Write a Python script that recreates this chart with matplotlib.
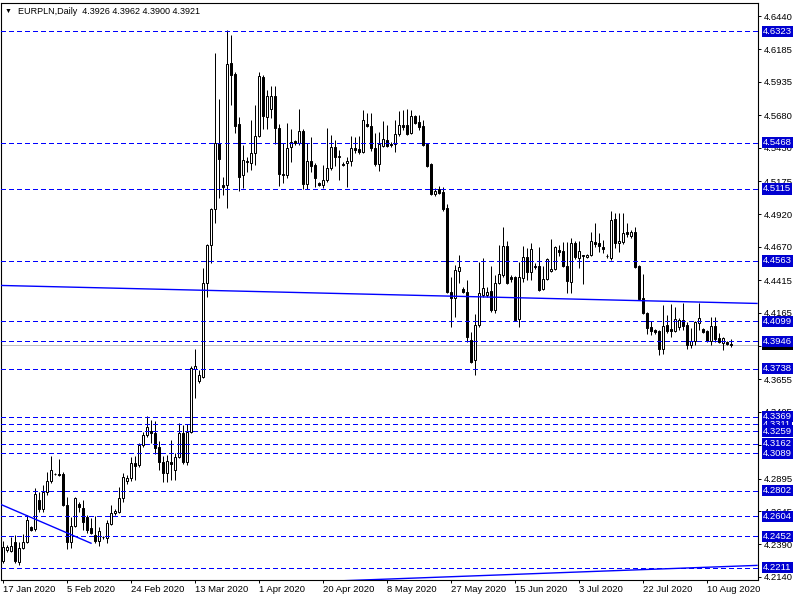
import numpy as np
import matplotlib
matplotlib.use('Agg')
import matplotlib.pyplot as plt
import matplotlib.transforms as mtransforms

plt.rcParams['font.family'] = ['Liberation Sans', 'DejaVu Sans']

# --- data ---
symbol = 'EURPLN,Daily'
last_ohlc = [4.3926, 4.3962, 4.3900, 4.3921]
bid = 4.3921

date_labels = ['17 Jan 2020', '5 Feb 2020', '24 Feb 2020', '13 Mar 2020', '1 Apr 2020',
               '20 Apr 2020', '8 May 2020', '27 May 2020', '15 Jun 2020', '3 Jul 2020',
               '22 Jul 2020', '10 Aug 2020']
bars_per_label = 16

opens = [
    4.2263, 4.2347, 4.2340, 4.2409, 4.2255, 4.2363, 4.2409, 4.2524, 4.2509, 4.2731,
    4.2662, 4.2792, 4.2876, 4.2930, 4.2930, 4.2930, 4.2692, 4.2409, 4.2531, 4.2700,
    4.2669, 4.2600, 4.2516, 4.2462, 4.2417, 4.2447, 4.2440, 4.2547, 4.2631, 4.2639,
    4.2746, 4.2876, 4.2899, 4.3014, 4.2999, 4.3152, 4.3229, 4.3259, 4.3244, 4.3137,
    4.3022, 4.2938, 4.3022, 4.2961, 4.3060, 4.3244, 4.3022, 4.3252, 4.3735, 4.3643,
    4.3673, 4.4394, 4.4685, 4.4961, 4.5467, 4.5145, 4.5145, 4.6080, 4.5996, 4.5613,
    4.5222, 4.5321, 4.5314, 4.5390, 4.5521, 4.5973, 4.5666, 4.5728, 4.5827, 4.5582,
    4.5229, 4.5222, 4.5436, 4.5482, 4.5467, 4.5559, 4.5153, 4.5329, 4.5298, 4.5160,
    4.5145, 4.5183, 4.5275, 4.5436, 4.5360, 4.5306, 4.5314, 4.5329, 4.5429, 4.5421,
    4.5398, 4.5613, 4.5597, 4.5429, 4.5306, 4.5444, 4.5490, 4.5459, 4.5459, 4.5536,
    4.5605, 4.5605, 4.5544, 4.5674, 4.5628, 4.5597, 4.5459, 4.5306, 4.5076, 4.5114,
    4.5091, 4.4969, 4.4325, 4.4279, 4.4486, 4.4348, 4.4325, 4.3957, 4.3804, 4.4072,
    4.4302, 4.4302, 4.4333, 4.4187, 4.4394, 4.4455, 4.4677, 4.4440, 4.4440, 4.4118,
    4.4432, 4.4593, 4.4478, 4.4524, 4.4524, 4.4348, 4.4425, 4.4486, 4.4501, 4.4647,
    4.4639, 4.4524, 4.4402, 4.4700, 4.4585, 4.4601, 4.4593, 4.4608, 4.4708, 4.4700,
    4.4670, 4.4601, 4.4585, 4.4884, 4.4700, 4.4708, 4.4785, 4.4754, 4.4785, 4.4524,
    4.4279, 4.4164, 4.4057, 4.4034, 4.4026, 4.3888, 4.4072, 4.4041, 4.4026, 4.4057,
    4.4110, 4.4072, 4.3919, 4.3949, 4.4087, 4.4041, 4.4026, 4.3949, 4.4064, 4.3972,
    4.3934, 4.3942, 4.3926]

highs = [
    4.2416, 4.2386, 4.2447, 4.2462, 4.2409, 4.2470, 4.2616, 4.2531, 4.2823, 4.2792,
    4.2846, 4.2945, 4.3068, 4.2938, 4.3045, 4.2945, 4.2754, 4.2600, 4.2754, 4.2715,
    4.2731, 4.2616, 4.2593, 4.2608, 4.2524, 4.2455, 4.2577, 4.2692, 4.2662, 4.2830,
    4.2938, 4.2922, 4.3060, 4.3068, 4.3167, 4.3252, 4.3374, 4.3344, 4.3336, 4.3183,
    4.3068, 4.3076, 4.3190, 4.3091, 4.3321, 4.3305, 4.3313, 4.3758, 4.3888, 4.3727,
    4.4509, 4.4693, 4.4969, 4.6157, 4.5804, 4.5206, 4.6333, 4.6295, 4.6011, 4.5666,
    4.5452, 4.5360, 4.5643, 4.5758, 4.6011, 4.5988, 4.5873, 4.5904, 4.5904, 4.5613,
    4.5467, 4.5620, 4.5574, 4.5490, 4.5728, 4.5574, 4.5467, 4.5513, 4.5314, 4.5168,
    4.5298, 4.5582, 4.5528, 4.5490, 4.5413, 4.5321, 4.5360, 4.5521, 4.5513, 4.5521,
    4.5720, 4.5697, 4.5697, 4.5544, 4.5551, 4.5636, 4.5605, 4.5475, 4.5643, 4.5712,
    4.5720, 4.5728, 4.5720, 4.5682, 4.5682, 4.5643, 4.5467, 4.5314, 4.5122, 4.5137,
    4.5130, 4.4999, 4.4440, 4.4532, 4.4608, 4.4363, 4.4417, 4.4018, 4.4156, 4.4555,
    4.4585, 4.4363, 4.4524, 4.4455, 4.4685, 4.4823, 4.4716, 4.4455, 4.4447, 4.4555,
    4.4677, 4.4662, 4.4700, 4.4547, 4.4670, 4.4524, 4.4585, 4.4731, 4.4677, 4.4685,
    4.4708, 4.4708, 4.4739, 4.4716, 4.4716, 4.4608, 4.4616, 4.4785, 4.4854, 4.4777,
    4.4723, 4.4616, 4.4946, 4.4930, 4.4930, 4.4930, 4.4854, 4.4800, 4.4823, 4.4532,
    4.4463, 4.4172, 4.4103, 4.4041, 4.4034, 4.4225, 4.4149, 4.4233, 4.4210, 4.4126,
    4.4241, 4.4095, 4.4049, 4.4103, 4.4241, 4.4049, 4.4034, 4.4133, 4.4133, 4.4011,
    4.3980, 4.3949, 4.3962]

lows = [
    4.2248, 4.2332, 4.2332, 4.2248, 4.2232, 4.2355, 4.2401, 4.2493, 4.2493, 4.2639,
    4.2639, 4.2769, 4.2861, 4.2922, 4.2915, 4.2685, 4.2355, 4.2363, 4.2524, 4.2639,
    4.2501, 4.2478, 4.2470, 4.2401, 4.2378, 4.2432, 4.2401, 4.2539, 4.2616, 4.2631,
    4.2715, 4.2853, 4.2876, 4.2884, 4.2984, 4.3137, 4.3213, 4.3167, 4.3083, 4.2961,
    4.2869, 4.2869, 4.2884, 4.2884, 4.3053, 4.3007, 4.2999, 4.3244, 4.3512, 4.3627,
    4.3666, 4.4287, 4.4547, 4.4854, 4.5045, 4.5068, 4.4969, 4.5758, 4.5544, 4.5099,
    4.5122, 4.5245, 4.5260, 4.5298, 4.5513, 4.5574, 4.5574, 4.5659, 4.5459, 4.5137,
    4.5160, 4.5199, 4.5321, 4.5452, 4.5452, 4.5114, 4.5114, 4.5245, 4.5130, 4.5137,
    4.5122, 4.5168, 4.5260, 4.5291, 4.5183, 4.5291, 4.5130, 4.5291, 4.5390, 4.5383,
    4.5390, 4.5590, 4.5406, 4.5291, 4.5252, 4.5436, 4.5436, 4.5436, 4.5398, 4.5521,
    4.5567, 4.5528, 4.5536, 4.5613, 4.5567, 4.5444, 4.5283, 4.5068, 4.5061, 4.5076,
    4.4946, 4.4317, 4.4057, 4.4133, 4.4394, 4.4317, 4.3942, 4.3781, 4.3689, 4.4057,
    4.4287, 4.4287, 4.4172, 4.4164, 4.4386, 4.4440, 4.4386, 4.4402, 4.4103, 4.4057,
    4.4402, 4.4417, 4.4417, 4.4501, 4.4333, 4.4340, 4.4417, 4.4478, 4.4494, 4.4601,
    4.4516, 4.4317, 4.4317, 4.4578, 4.4509, 4.4386, 4.4585, 4.4601, 4.4670, 4.4631,
    4.4624, 4.4585, 4.4570, 4.4662, 4.4631, 4.4693, 4.4746, 4.4739, 4.4509, 4.4264,
    4.4156, 4.4003, 4.3995, 4.4003, 4.3842, 4.3850, 4.4011, 4.3980, 4.4018, 4.4034,
    4.4034, 4.3888, 4.3896, 4.3919, 4.4034, 4.4011, 4.3942, 4.3919, 4.3942, 4.3934,
    4.3880, 4.3919, 4.3900]

closes = [
    4.2371, 4.2371, 4.2378, 4.2263, 4.2363, 4.2409, 4.2577, 4.2501, 4.2777, 4.2662,
    4.2792, 4.2876, 4.2961, 4.2926, 4.2922, 4.2692, 4.2409, 4.2531, 4.2746, 4.2677,
    4.2562, 4.2501, 4.2478, 4.2417, 4.2493, 4.2443, 4.2554, 4.2631, 4.2646, 4.2746,
    4.2907, 4.2899, 4.3014, 4.2991, 4.3152, 4.3229, 4.3290, 4.3244, 4.3129, 4.3022,
    4.2938, 4.3030, 4.3007, 4.3060, 4.3244, 4.3022, 4.3252, 4.3742, 4.3758, 4.3689,
    4.4394, 4.4685, 4.4961, 4.5467, 4.5344, 4.5130, 4.6072, 4.5988, 4.5597, 4.5206,
    4.5337, 4.5329, 4.5390, 4.5521, 4.5980, 4.5674, 4.5827, 4.5827, 4.5582, 4.5229,
    4.5222, 4.5429, 4.5475, 4.5467, 4.5559, 4.5153, 4.5329, 4.5291, 4.5199, 4.5145,
    4.5183, 4.5275, 4.5436, 4.5360, 4.5367, 4.5302, 4.5329, 4.5429, 4.5413, 4.5398,
    4.5643, 4.5597, 4.5429, 4.5306, 4.5459, 4.5498, 4.5444, 4.5455, 4.5536, 4.5605,
    4.5590, 4.5536, 4.5674, 4.5620, 4.5590, 4.5452, 4.5291, 4.5076, 4.5099, 4.5084,
    4.4961, 4.4325, 4.4279, 4.4494, 4.4516, 4.4325, 4.3980, 4.3788, 4.4072, 4.4317,
    4.4356, 4.4325, 4.4187, 4.4394, 4.4463, 4.4677, 4.4394, 4.4425, 4.4110, 4.4440,
    4.4593, 4.4478, 4.4654, 4.4520, 4.4340, 4.4425, 4.4578, 4.4501, 4.4670, 4.4631,
    4.4524, 4.4409, 4.4700, 4.4593, 4.4639, 4.4605, 4.4608, 4.4716, 4.4693, 4.4677,
    4.4658, 4.4597, 4.4877, 4.4700, 4.4716, 4.4777, 4.4769, 4.4785, 4.4516, 4.4271,
    4.4164, 4.4049, 4.4026, 4.4018, 4.3888, 4.4064, 4.4026, 4.4026, 4.4118, 4.4110,
    4.4064, 4.3919, 4.3949, 4.4095, 4.4126, 4.4018, 4.3949, 4.4064, 4.3965, 4.3942,
    4.3972, 4.3926, 4.3921]

# horizontal levels drawn on the chart
levels = [4.6323, 4.5468, 4.5115, 4.4563, 4.4099, 4.3946, 4.3738, 4.3369, 4.3311,
          4.3259, 4.3162, 4.3089, 4.2802, 4.2604, 4.2452, 4.2211]

# price scale ticks (labels hidden behind level boxes in the original are left blank)
price_ticks = [4.6440, 4.6185, 4.5935, 4.5680, 4.5430, 4.5175, 4.4920, 4.4670, 4.4415,
               4.4165, 4.3910, 4.3655, 4.3405, 4.3150, 4.2895, 4.2645, 4.2390, 4.2140]
hidden_ticks = [4.3910, 4.3150]

# trend lines: (bar index, price) at both ends
trend_upper_bars = [-0.75, 188.5]
trend_upper_prices = [4.4375, 4.4237]
trend_left_bars = [-0.75, 22]
trend_left_prices = [4.2699, 4.2399]
trend_bottom_bars = [-0.75, 188.5]
trend_bottom_prices = [4.2014, 4.2229]

BLUE = '#0000ff'
BOX = '#0000d0'
PX = 0.72  # one pixel in points at 100 dpi

# --- figure ---
fig = plt.figure(figsize=(8, 6), dpi=100)
ax = fig.add_axes([1 / 800, 20 / 600, 757 / 800, 577 / 600])
ax.set_facecolor('white')

o = np.array(opens)
h = np.array(highs)
l = np.array(lows)
c = np.array(closes)
idx = np.arange(len(o))

# bid line
ax.axhline(bid, color='#c0c0c0', lw=PX, zorder=1, antialiased=False)

# candles
ax.vlines(idx, l, h, color='black', lw=PX, zorder=2)
bull = c >= o
faces = np.where(bull, 'white', 'black')
ax.bar(idx, np.abs(c - o), bottom=np.minimum(o, c), width=0.7, color=faces,
       edgecolor='black', linewidth=PX, zorder=3)

# levels + trendlines
for lv in levels:
    ax.axhline(lv, color=BLUE, lw=PX, ls=(0, (4.5, 3.5)), zorder=4, antialiased=False)
ax.plot(trend_upper_bars, trend_upper_prices, color=BLUE, lw=1.0, zorder=4)
ax.plot(trend_left_bars, trend_left_prices, color=BLUE, lw=1.0, zorder=4)
ax.plot(trend_bottom_bars, trend_bottom_prices, color=BLUE, lw=1.0, zorder=4)

ax.set_xlim(-0.5, 188.75)
ax.set_ylim(4.2117, 4.6540)

# price axis on the right
ax.yaxis.tick_right()
ax.set_yticks(price_ticks)
ax.set_yticklabels(['' if p in hidden_ticks else f'{p:.4f}' for p in price_ticks])
ax.tick_params(axis='y', direction='out', length=2.5, width=0.7, pad=2, labelsize=6.8)

# date axis
ax.set_xticks(np.arange(len(date_labels)) * bars_per_label)
ax.set_xticklabels(date_labels, ha='left')
ax.tick_params(axis='x', direction='out', length=2.5, width=0.7, pad=1, labelsize=6.8)

for sp in ax.spines.values():
    sp.set_color('black')
    sp.set_linewidth(0.8)

# price labels on the scale
trans = mtransforms.blended_transform_factory(ax.transAxes, ax.transData)
ax.text(1.0066, bid, f'{bid:.4f}', transform=trans, color='white', fontsize=6.8,
        va='center', ha='left', zorder=5,
        bbox=dict(boxstyle='square,pad=0.12', fc='black', ec='none'))
for lv in levels:
    ax.text(1.0066, lv, f'{lv:.4f}', transform=trans, color='white', fontsize=6.8,
            va='center', ha='left', zorder=6,
            bbox=dict(boxstyle='square,pad=0.12', fc=BOX, ec='none'))

# header
fig.text(5 / 800, 1 - 11 / 600, '\u25bc', fontsize=5, va='center', ha='left', color='black')
fig.text(18 / 800, 1 - 11 / 600,
         f'{symbol}  ' + ' '.join(f'{v:.4f}' for v in last_ohlc),
         fontsize=6.5, va='center', ha='left', color='black')

fig.savefig('out.png', dpi=100, facecolor='white')
